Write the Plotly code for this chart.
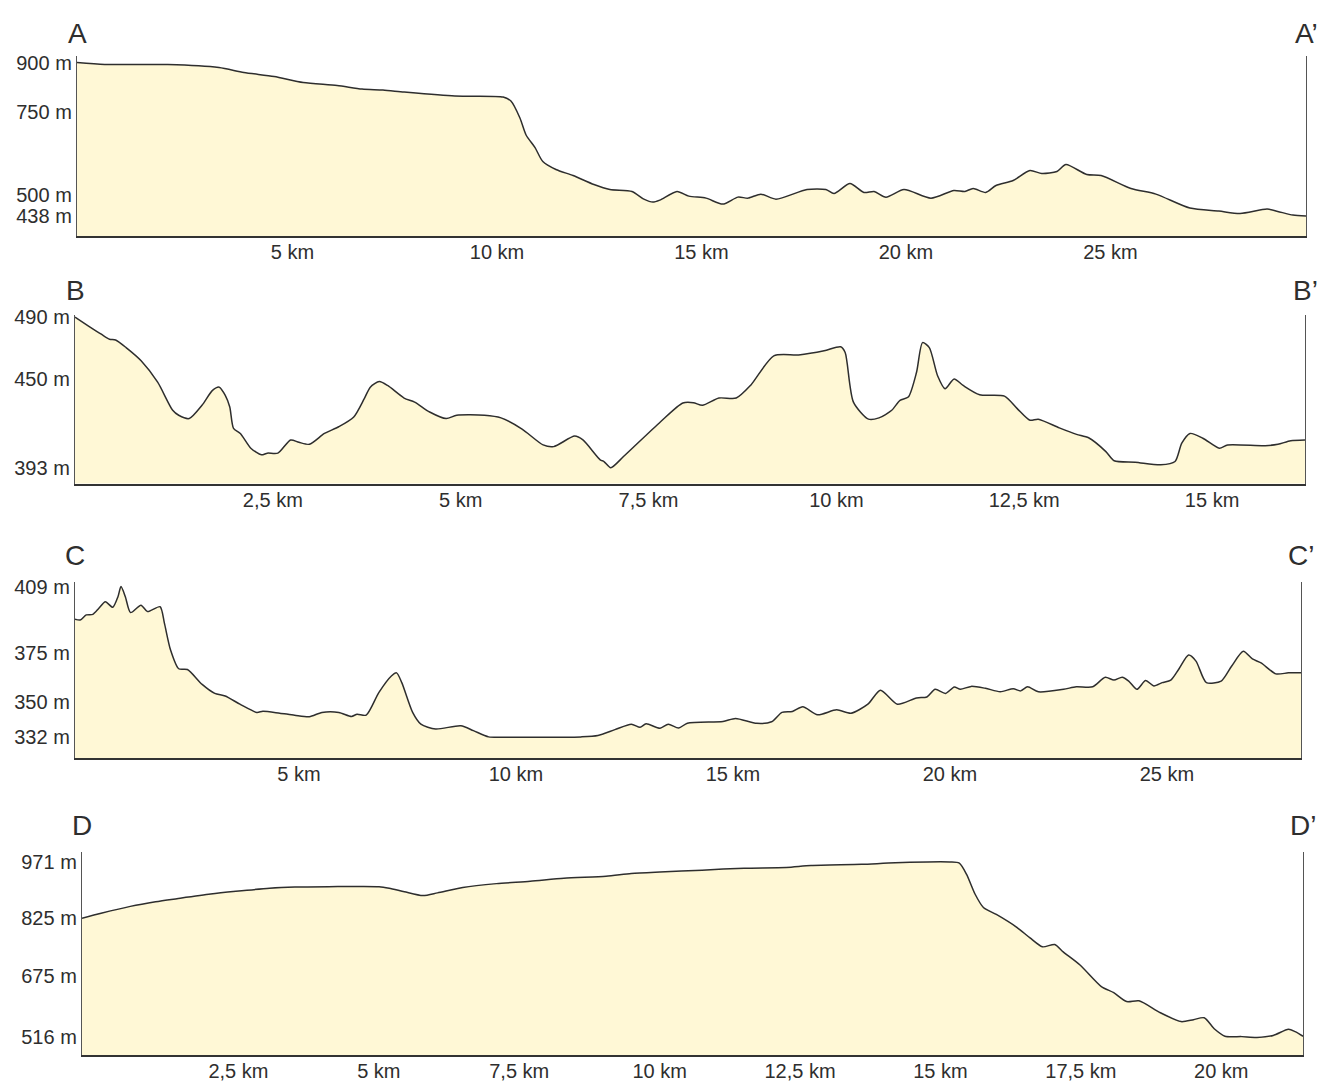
import plotly.graph_objects as go

W, H = 1319, 1082

# ---- Profile A - A' (distance in km, elevation in m) ----
a_km = [0.00, 0.68, 2.22, 3.47, 4.08, 4.82, 5.53, 6.36, 6.97, 7.48, 8.00, 9.24, 10.42,
        10.61, 10.83, 10.98, 11.20, 11.39, 11.71, 12.13, 12.64, 13.03, 13.57, 13.86,
        14.08, 14.25, 14.67, 14.96, 15.38, 15.79, 16.16, 16.41, 16.72, 17.09, 17.85,
        18.31, 18.51, 18.90, 19.24, 19.49, 19.78, 20.22, 20.88, 21.44, 21.71, 21.91,
        22.22, 22.47, 22.89, 23.30, 23.59, 23.96, 24.18, 24.69, 25.04, 25.77, 26.38,
        27.21, 27.92, 28.44, 29.10, 29.36, 29.73, 30.05]
a_m = [900, 894, 894, 885, 870, 858, 840, 831, 820, 817, 811, 799, 796,
       784, 733, 682, 644, 602, 578, 560, 533, 518, 512, 489,
       480, 486, 512, 498, 492, 474, 495, 492, 504, 489, 518,
       518, 506, 536, 509, 512, 495, 518, 492, 515, 512, 521,
       509, 530, 545, 575, 566, 572, 593, 563, 560, 521, 504,
       462, 453, 446, 459, 452, 441, 438]
a_yticks = [900, 750, 500, 438]
a_xticks = [5, 10, 15, 20, 25]
a_xlabels = ["5 km", "10 km", "15 km", "20 km", "25 km"]

# ---- Profile B - B' ----
b_km = [0.00, 0.18, 0.35, 0.46, 0.54, 0.68, 0.88, 1.10, 1.30, 1.38, 1.52, 1.69, 1.83,
        1.92, 2.00, 2.06, 2.11, 2.20, 2.34, 2.48, 2.56, 2.70, 2.87, 2.98, 3.12, 3.32,
        3.51, 3.71, 3.85, 3.93, 4.05, 4.16, 4.38, 4.52, 4.72, 4.94, 5.08, 5.45, 5.67,
        5.95, 6.23, 6.37, 6.65, 6.76, 6.99, 7.04, 7.13, 7.30, 7.79, 8.09, 8.23, 8.35,
        8.57, 8.80, 8.99, 9.30, 9.63, 9.97, 10.19, 10.25, 10.36, 10.56, 10.70, 10.87,
        10.98, 11.09, 11.20, 11.28, 11.37, 11.48, 11.58, 11.70, 11.82, 12.04, 12.37,
        12.54, 12.71, 12.82, 13.10, 13.33, 13.49, 13.72, 13.83, 14.11, 14.45, 14.64,
        14.73, 14.84, 15.01, 15.23, 15.34, 15.84, 16.01, 16.18, 16.37]
b_m = [490, 484.3, 479.0, 475.8, 475.3, 470.4, 461.9, 448.1, 430.0, 426.8, 424.7, 433.2, 442.8,
       444.9, 439.6, 432.1, 418.3, 415.1, 405.6, 401.3, 402.4, 402.4, 410.9, 409.4, 408.1, 415.1,
       419.4, 425.7, 437.5, 444.9, 448.5, 446.0, 437.9, 435.3, 428.9, 424.7, 426.8, 426.8, 425.1,
       417.9, 407.7, 406.6, 413.4, 410.9, 398.1, 397.0, 393.0, 400.2, 422.5, 434.7, 434.9, 433.2,
       437.9, 437.9, 446.0, 465.1, 465.7, 468.3, 470.9, 467.2, 435.3, 424.3, 425.1, 430.0,
       436.4, 438.5, 454.5, 473.6, 470.4, 452.3, 443.9, 450.2, 446.0, 440.0, 439.1,
       431.1, 423.6, 424.3, 418.7, 414.5, 412.3, 403.4, 397.5, 396.6, 394.9, 397.0,
       408.8, 415.1, 412.0, 405.6, 407.7, 407.2, 408.1, 410.4, 410.9]
b_yticks = [490, 450, 393]
b_xticks = [2.5, 5, 7.5, 10, 12.5, 15]
b_xlabels = ["2,5 km", "5 km", "7,5 km", "10 km", "12,5 km", "15 km"]

# ---- Profile C - C' ----
c_km = [0.00, 0.12, 0.26, 0.41, 0.55, 0.70, 0.87, 0.99, 1.06, 1.16, 1.28, 1.52, 1.67,
        1.96, 2.06, 2.20, 2.39, 2.59, 2.93, 3.22, 3.46, 3.80, 4.19, 4.33, 4.72, 5.06,
        5.40, 5.69, 6.08, 6.37, 6.50, 6.71, 7.00, 7.29, 7.41, 7.53, 7.78, 7.97, 8.31,
        8.89, 9.18, 9.53, 9.91, 10.88, 11.66, 12.05, 12.44, 12.82, 13.02, 13.16, 13.48,
        13.67, 13.91, 14.11, 14.93, 15.22, 15.71, 16.05, 16.29, 16.53, 16.77, 17.11,
        17.55, 17.88, 18.27, 18.56, 18.95, 19.39, 19.63, 19.82, 20.06, 20.26, 20.40,
        20.65, 20.98, 21.32, 21.62, 21.79, 21.95, 22.20, 22.78, 23.07, 23.45, 23.74,
        23.94, 24.13, 24.28, 24.47, 24.67, 24.86, 25.05, 25.25, 25.44, 25.66, 25.83,
        26.07, 26.41, 26.65, 26.92, 27.13, 27.33, 27.67, 27.96, 28.25]
c_m = [392.3, 391.9, 394.5, 394.8, 397.9, 401.2, 398.4, 403.8, 409.0, 403.8, 395.7, 399.5, 396.2,
       398.7, 390.3, 376.7, 367.0, 366.6, 359.0, 354.4, 353.1, 348.9, 344.7, 345.3, 344.3, 343.3,
       342.5, 344.7, 344.7, 342.6, 343.8, 343.3, 354.8, 363.3, 364.9, 359.9, 344.7, 338.7, 336.2,
       337.9, 335.4, 332.2, 332.0, 332.0, 332.2, 332.9, 335.9, 338.7, 337.1, 338.9, 336.6,
       338.7, 336.7, 339.2, 340.1, 341.6, 339.1, 339.9, 344.7, 345.2, 347.6, 343.5,
       346.0, 344.3, 348.9, 356.0, 348.9, 352.1, 352.6, 356.5, 354.4, 357.7, 356.5,
       358.0, 357.0, 355.3, 356.8, 355.7, 357.8, 355.2, 356.5, 357.8, 357.8, 362.7,
       361.2, 362.7, 360.7, 356.5, 361.0, 358.2, 359.9, 361.2, 367.0, 374.0, 370.9,
       359.9, 360.7, 368.3, 375.9, 372.0, 370.0, 364.4, 364.9, 364.9]
c_yticks = [409, 375, 350, 332]
c_xticks = [5, 10, 15, 20, 25]
c_xlabels = ["5 km", "10 km", "15 km", "20 km", "25 km"]

# ---- Profile D - D' ----
d_km = [0.00, 0.34, 0.86, 1.31, 1.69, 2.29, 2.74, 3.34, 3.79, 4.39, 5.29, 5.47, 5.74,
        6.07, 6.33, 6.78, 7.38, 7.98, 8.58, 9.33, 9.78, 10.29, 11.04, 11.79, 12.54,
        12.98, 13.88, 14.48, 15.45, 15.62, 15.75, 15.90, 16.05, 16.28, 16.65, 16.88,
        17.10, 17.32, 17.47, 17.77, 18.15, 18.37, 18.60, 18.82, 19.20, 19.57, 19.79,
        19.98, 20.17, 20.35, 20.65, 20.92, 21.21, 21.48, 21.60, 21.74]
d_m = [825, 838, 856, 868, 876, 888, 895, 903, 906, 907, 907, 903, 894,
       884, 891, 905, 915, 921, 929, 934, 941, 945, 950, 955, 957,
       962, 965, 969, 971, 968, 939, 888, 853, 835, 801, 774,
       751, 757, 738, 704, 648, 632, 609, 611, 580, 557, 562,
       567, 537, 519, 518, 516, 521, 537, 531, 519]
d_yticks = [971, 825, 675, 516]
d_xticks = [2.5, 5, 7.5, 10, 12.5, 15, 17.5, 20]
d_xlabels = ["2,5 km", "5 km", "7,5 km", "10 km", "12,5 km", "15 km", "17,5 km", "20 km"]

FONT = "Liberation Sans, Arial, sans-serif"
INK = "#2e2e2e"
FILL = "#fff8d6"

# Each panel: data, pixel box (left, right, top, bottom), value ranges, tick shift
panels = [
    dict(name="A", x=a_km, y=a_m, box=(77, 1306, 47, 229), xr=[0, 30.05], yr=[378.4, 920.9],
         yt=a_yticks, xt=a_xticks, xl=a_xlabels, shift=11, lab_y=25),
    dict(name="B", x=b_km, y=b_m, box=(75, 1305, 309, 479), xr=[0, 16.37], yr=[382.8, 491.3],
         yt=b_yticks, xt=b_xticks, xl=b_xlabels, shift=10, lab_y=284),
    dict(name="C", x=c_km, y=c_m, box=(75, 1301, 578, 756), xr=[0, 28.25], yr=[321.4, 411.5],
         yt=c_yticks, xt=c_xticks, xl=c_xlabels, shift=7, lab_y=552),
    dict(name="D", x=d_km, y=d_m, box=(82, 1303, 851, 1056), xr=[0, 21.74], yr=[469.7, 996.7],
         yt=d_yticks, xt=d_xticks, xl=d_xlabels, shift=16, lab_y=824),
]

fig = go.Figure()
annotations = []
for i, p in enumerate(panels, start=1):
    xa = "x" if i == 1 else f"x{i}"
    ya = "y" if i == 1 else f"y{i}"
    fig.add_trace(go.Scatter(
        x=p["x"], y=p["y"], xaxis=xa, yaxis=ya, mode="lines",
        line=dict(color=INK, width=1.5, shape="spline", smoothing=0.7),
        fill="tozeroy", fillcolor=FILL, hoverinfo="skip", showlegend=False,
    ))
    left, right, top, bottom = p["box"]
    xdom = [left / W, right / W]
    ydom = [1 - bottom / H, 1 - top / H]
    fig.update_layout(**{
        ("xaxis" if i == 1 else f"xaxis{i}"): dict(
            domain=xdom, range=p["xr"], anchor=ya,
            showgrid=False, zeroline=False, showline=True, linecolor="#333333", linewidth=2,
            tickmode="array", tickvals=p["xt"], ticktext=p["xl"], ticks="",
            ticklabelshift=p["shift"], ticklabelstandoff=-3,
            tickfont=dict(family=FONT, size=20, color=INK),
        ),
        ("yaxis" if i == 1 else f"yaxis{i}"): dict(
            domain=ydom, range=p["yr"], anchor=xa,
            showgrid=False, zeroline=False, showline=True, linecolor="#555555", linewidth=1.3,
            mirror=True, tickmode="array", tickvals=p["yt"],
            ticktext=[f"{v} m" for v in p["yt"]], ticks="", ticklabelstandoff=0,
            tickfont=dict(family=FONT, size=20, color=INK),
        ),
    })
    annotations.append(dict(text=p["name"], x=left / W, y=1 - p["lab_y"] / H, xref="paper",
                            yref="paper", xanchor="center", yanchor="middle", showarrow=False,
                            font=dict(family=FONT, size=28, color=INK)))
    annotations.append(dict(text=p["name"] + "\u2019", x=right / W, y=1 - p["lab_y"] / H,
                            xref="paper", yref="paper", xanchor="center", yanchor="middle",
                            showarrow=False, font=dict(family=FONT, size=28, color=INK)))

fig.update_layout(
    width=W, height=H, margin=dict(l=0, r=0, t=0, b=0),
    paper_bgcolor="white", plot_bgcolor="white",
    annotations=annotations, showlegend=False,
)

# keep the page edge-to-edge so the figure sits at the window origin
fig.write_html("out.html", post_script="document.body.style.margin='0';")
